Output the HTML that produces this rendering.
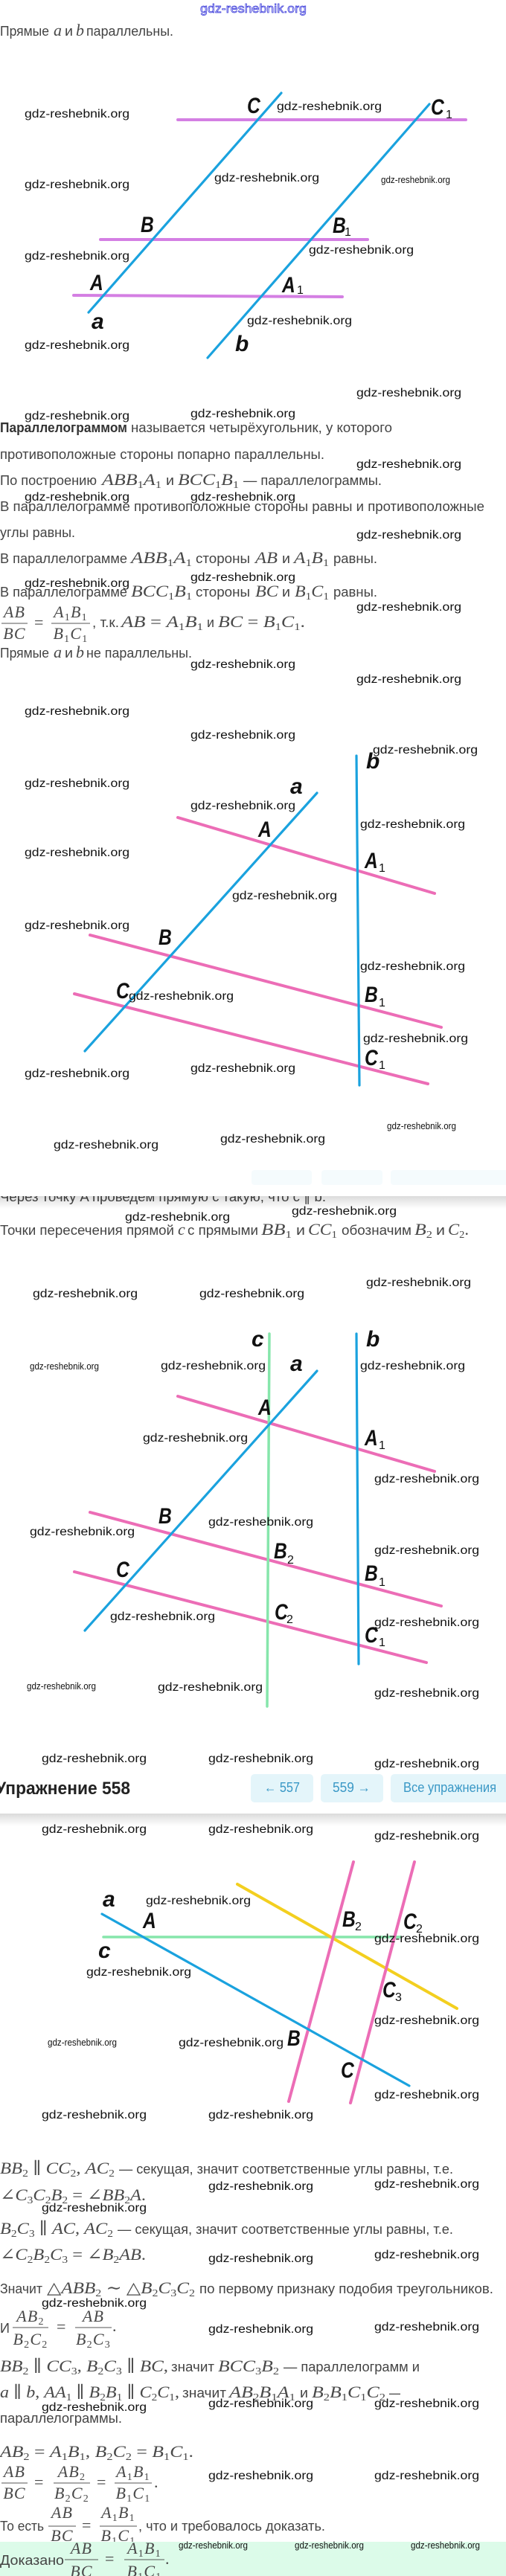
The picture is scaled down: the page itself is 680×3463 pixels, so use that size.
<!DOCTYPE html>
<html><head><meta charset="utf-8">
<style>
html,body{margin:0;padding:0;background:#fff;}
body{width:680px;height:3463px;overflow:hidden;position:relative;}
svg{position:absolute;left:0;top:0;}
.t{font-family:"Liberation Sans",sans-serif;font-size:18px;fill:#444;}
.bd{font-weight:bold;fill:#333;}
.m{font-family:"Liberation Serif","DejaVu Serif",serif;font-style:italic;font-size:22px;fill:#4a4a4a;}
.n{font-style:normal;}
.s{font-style:normal;font-size:14px;}
.fr{letter-spacing:1.2px;}
.w{font-family:"Liberation Sans",sans-serif;font-size:15.5px;fill:#111;}
.ws{font-family:"Liberation Sans",sans-serif;font-size:12.5px;fill:#111;}
.L{font-family:"Liberation Sans",sans-serif;font-style:italic;font-weight:bold;font-size:30px;fill:#111;}
.Ls{font-family:"Liberation Sans",sans-serif;font-size:16px;fill:#111;}
.bl{stroke:#1aa2de;stroke-width:3.2;stroke-linecap:round;}
.vi{stroke:#d47fe3;stroke-width:4;stroke-linecap:round;}
.pk{stroke:#ec6db6;stroke-width:4;stroke-linecap:round;}
.gr{stroke:#86e6ab;stroke-width:3.5;stroke-linecap:round;}
.ye{stroke:#f3cf1f;stroke-width:4;stroke-linecap:round;}
.fl{stroke:#555;stroke-width:1;}
.bt{font-family:"Liberation Sans","DejaVu Sans",sans-serif;font-size:18px;fill:#3a98c6;}
</style></head><body>
<svg width="680" height="3463" viewBox="0 0 680 3463" xmlns="http://www.w3.org/2000/svg">
<defs>
<linearGradient id="sh" x1="0" y1="0" x2="0" y2="1"><stop offset="0" stop-color="#000" stop-opacity="0.14"/><stop offset="1" stop-color="#000" stop-opacity="0"/></linearGradient>
</defs>

<!-- top site watermark -->
<text x="269" y="17" textLength="143" lengthAdjust="spacingAndGlyphs" style="font-family:'Liberation Sans',sans-serif;font-size:17px;fill:#e6e6ff;stroke:#2d2dd6;stroke-width:0.7">gdz-reshebnik.org</text>

<!-- ===== Diagram 1 ===== -->
<line class="vi" x1="239" y1="161" x2="626" y2="161"/>
<line class="vi" x1="135" y1="322" x2="494" y2="322"/>
<line class="vi" x1="99" y1="397" x2="460" y2="399"/>
<line class="bl" x1="378" y1="125" x2="119" y2="420"/>
<line class="bl" x1="577" y1="140" x2="279" y2="481"/>
<text class="L" transform="translate(332 152) scale(0.82 1)">C</text>
<text class="L" transform="translate(579 154) scale(0.82 1)">C</text><text class="Ls" x="599" y="159">1</text>
<text class="L" transform="translate(189 312) scale(0.82 1)">B</text>
<text class="L" transform="translate(447 313) scale(0.82 1)">B</text><text class="Ls" x="463" y="317">1</text>
<text class="L" transform="translate(121 390) scale(0.82 1)">A</text>
<text class="L" transform="translate(379 393) scale(0.82 1)">A</text><text class="Ls" x="399" y="395">1</text>
<text class="L" transform="translate(123 442)">a</text>
<text class="L" transform="translate(316 472)">b</text>

<!-- text block 1 -->
<text class="t" x="0" y="48" textLength="66" lengthAdjust="spacingAndGlyphs">Прямые</text>
<text class="m" x="72" y="48">a</text>
<text class="t" x="87" y="48" textLength="11" lengthAdjust="spacingAndGlyphs">и</text>
<text class="m" x="102" y="48">b</text>
<text class="t" x="116" y="48" textLength="117" lengthAdjust="spacingAndGlyphs">параллельны.</text>

<text class="t bd" x="0" y="581" textLength="171" lengthAdjust="spacingAndGlyphs">Параллелограммом</text>
<text class="t" x="176" y="581" textLength="351" lengthAdjust="spacingAndGlyphs">называется четырёхугольник, у которого</text>
<text class="t" x="0" y="617" textLength="436" lengthAdjust="spacingAndGlyphs">противоположные стороны попарно параллельны.</text>

<text class="t" x="0" y="652" textLength="130" lengthAdjust="spacingAndGlyphs">По построению</text>
<text class="m" x="137" y="652" textLength="80" lengthAdjust="spacingAndGlyphs">ABB<tspan class="s" dy="4">1</tspan><tspan dy="-4">A</tspan><tspan class="s" dy="4">1</tspan></text>
<text class="t" x="223" y="652" textLength="11" lengthAdjust="spacingAndGlyphs">и</text>
<text class="m" x="239" y="652" textLength="82" lengthAdjust="spacingAndGlyphs">BCC<tspan class="s" dy="4">1</tspan><tspan dy="-4">B</tspan><tspan class="s" dy="4">1</tspan></text>
<text class="t" x="327" y="652" textLength="186" lengthAdjust="spacingAndGlyphs">— параллелограммы.</text>

<text class="t" x="0" y="687" textLength="651" lengthAdjust="spacingAndGlyphs">В параллелограмме противоположные стороны равны и противоположные</text>
<text class="t" x="0" y="722" textLength="101" lengthAdjust="spacingAndGlyphs">углы равны.</text>

<text class="t" x="0" y="757" textLength="171" lengthAdjust="spacingAndGlyphs">В параллелограмме</text>
<text class="m" x="176" y="757" textLength="82" lengthAdjust="spacingAndGlyphs">ABB<tspan class="s" dy="4">1</tspan><tspan dy="-4">A</tspan><tspan class="s" dy="4">1</tspan></text>
<text class="t" x="263" y="757" textLength="73" lengthAdjust="spacingAndGlyphs">стороны</text>
<text class="m" x="343" y="757" textLength="30" lengthAdjust="spacingAndGlyphs">AB</text>
<text class="t" x="379" y="757" textLength="11" lengthAdjust="spacingAndGlyphs">и</text>
<text class="m" x="395" y="757" textLength="47" lengthAdjust="spacingAndGlyphs">A<tspan class="s" dy="4">1</tspan><tspan dy="-4">B</tspan><tspan class="s" dy="4">1</tspan></text>
<text class="t" x="448" y="757" textLength="59" lengthAdjust="spacingAndGlyphs">равны.</text>

<text class="t" x="0" y="802" textLength="171" lengthAdjust="spacingAndGlyphs">В параллелограмме</text>
<text class="m" x="176" y="802" textLength="82" lengthAdjust="spacingAndGlyphs">BCC<tspan class="s" dy="4">1</tspan><tspan dy="-4">B</tspan><tspan class="s" dy="4">1</tspan></text>
<text class="t" x="263" y="802" textLength="73" lengthAdjust="spacingAndGlyphs">стороны</text>
<text class="m" x="343" y="802" textLength="31" lengthAdjust="spacingAndGlyphs">BC</text>
<text class="t" x="379" y="802" textLength="11" lengthAdjust="spacingAndGlyphs">и</text>
<text class="m" x="396" y="802" textLength="46" lengthAdjust="spacingAndGlyphs">B<tspan class="s" dy="4">1</tspan><tspan dy="-4">C</tspan><tspan class="s" dy="4">1</tspan></text>
<text class="t" x="448" y="802" textLength="59" lengthAdjust="spacingAndGlyphs">равны.</text>

<!-- fraction line 9 -->
<text class="m fr" x="19.5" y="830" text-anchor="middle">AB</text>
<line class="fl" x1="2" y1="838" x2="37" y2="838"/>
<text class="m fr" x="19.5" y="859" text-anchor="middle">BC</text>
<text class="m n" x="46" y="844">=</text>
<text class="m fr" x="95" y="830" text-anchor="middle">A<tspan class="s" dy="4">1</tspan><tspan dy="-4">B</tspan><tspan class="s" dy="4">1</tspan></text>
<line class="fl" x1="69" y1="838" x2="121" y2="838"/>
<text class="m fr" x="95" y="859" text-anchor="middle">B<tspan class="s" dy="4">1</tspan><tspan dy="-4">C</tspan><tspan class="s" dy="4">1</tspan></text>
<text class="t" x="124" y="843" textLength="36" lengthAdjust="spacingAndGlyphs">, т.к.</text>
<text class="m" x="163" y="843" textLength="110" lengthAdjust="spacingAndGlyphs">AB<tspan class="n"> = </tspan>A<tspan class="s" dy="4">1</tspan><tspan dy="-4">B</tspan><tspan class="s" dy="4">1</tspan></text>
<text class="t" x="278" y="843" textLength="10" lengthAdjust="spacingAndGlyphs">и</text>
<text class="m" x="293" y="843" textLength="117" lengthAdjust="spacingAndGlyphs">BC<tspan class="n"> = </tspan>B<tspan class="s" dy="4">1</tspan><tspan dy="-4">C</tspan><tspan class="s" dy="4">1</tspan><tspan class="n" dy="-4">.</tspan></text>

<text class="t" x="0" y="884" textLength="66" lengthAdjust="spacingAndGlyphs">Прямые</text>
<text class="m" x="72" y="884">a</text>
<text class="t" x="87" y="884" textLength="11" lengthAdjust="spacingAndGlyphs">и</text>
<text class="m" x="102" y="884">b</text>
<text class="t" x="116" y="884" textLength="142" lengthAdjust="spacingAndGlyphs">не параллельны.</text>

<!-- ===== Diagram 2 ===== -->
<line class="pk" x1="239" y1="1099" x2="584" y2="1201"/>
<line class="pk" x1="121" y1="1257" x2="593" y2="1381"/>
<line class="pk" x1="100" y1="1336" x2="575" y2="1457"/>
<line class="bl" x1="479" y1="1016" x2="483" y2="1459"/>
<line class="bl" x1="426" y1="1066" x2="114" y2="1413"/>
<text class="L" transform="translate(492 1033)">b</text>
<text class="L" transform="translate(390 1067)">a</text>
<text class="L" transform="translate(347 1125) scale(0.82 1)">A</text>
<text class="L" transform="translate(490 1167) scale(0.82 1)">A</text><text class="Ls" x="509" y="1172">1</text>
<text class="L" transform="translate(213 1270) scale(0.82 1)">B</text>
<text class="L" transform="translate(490 1347) scale(0.82 1)">B</text><text class="Ls" x="509" y="1353">1</text>
<text class="L" transform="translate(156 1342) scale(0.82 1)">C</text>
<text class="L" transform="translate(490 1432) scale(0.82 1)">C</text><text class="Ls" x="509" y="1437">1</text>

<!-- hidden line under sticky header -->
<text class="t" x="0" y="1615" textLength="438" lengthAdjust="spacingAndGlyphs">Через точку A проведем прямую c такую, что c ∥ b.</text>
<rect x="0" y="1548" width="680" height="60" fill="#fff"/>
<rect x="338" y="1573" width="81" height="20" rx="4" fill="#f5fbfd"/>
<rect x="432" y="1573" width="82" height="20" rx="4" fill="#f5fbfd"/>
<rect x="525" y="1573" width="160" height="20" rx="4" fill="#f5fbfd"/>
<rect x="0" y="1608" width="680" height="17" fill="url(#sh)"/>

<text class="t" x="0" y="1660" textLength="234" lengthAdjust="spacingAndGlyphs">Точки пересечения прямой</text>
<text class="m" x="239" y="1660">c</text>
<text class="t" x="252" y="1660" textLength="95" lengthAdjust="spacingAndGlyphs">с прямыми</text>
<text class="m" x="351" y="1660" textLength="41" lengthAdjust="spacingAndGlyphs">BB<tspan class="s" dy="4">1</tspan></text>
<text class="t" x="398" y="1660" textLength="12" lengthAdjust="spacingAndGlyphs">и</text>
<text class="m" x="414" y="1660" textLength="39" lengthAdjust="spacingAndGlyphs">CC<tspan class="s" dy="4">1</tspan></text>
<text class="t" x="459" y="1660" textLength="94" lengthAdjust="spacingAndGlyphs">обозначим</text>
<text class="m" x="557" y="1660" textLength="24" lengthAdjust="spacingAndGlyphs">B<tspan class="s" dy="4">2</tspan></text>
<text class="t" x="586" y="1660" textLength="12" lengthAdjust="spacingAndGlyphs">и</text>
<text class="m" x="602" y="1660" textLength="28" lengthAdjust="spacingAndGlyphs">C<tspan class="s" dy="4">2</tspan><tspan class="n" dy="-4">.</tspan></text>

<!-- ===== Diagram 3 ===== -->
<line class="pk" x1="239" y1="1877" x2="584" y2="1978"/>
<line class="pk" x1="121" y1="2033" x2="593" y2="2159"/>
<line class="pk" x1="100" y1="2113" x2="573" y2="2235"/>
<line class="gr" x1="362" y1="1793" x2="359" y2="2294"/>
<line class="bl" x1="479" y1="1793" x2="482" y2="2237"/>
<line class="bl" x1="426" y1="1843" x2="114" y2="2192"/>
<text class="L" transform="translate(338 1810)">c</text>
<text class="L" transform="translate(492 1810)">b</text>
<text class="L" transform="translate(390 1843)">a</text>
<text class="L" transform="translate(347 1902) scale(0.82 1)">A</text>
<text class="L" transform="translate(490 1943) scale(0.82 1)">A</text><text class="Ls" x="509" y="1948">1</text>
<text class="L" transform="translate(213 2048) scale(0.82 1)">B</text>
<text class="L" transform="translate(368 2095) scale(0.82 1)">B</text><text class="Ls" x="386" y="2102">2</text>
<text class="L" transform="translate(490 2125) scale(0.82 1)">B</text><text class="Ls" x="509" y="2132">1</text>
<text class="L" transform="translate(156 2120) scale(0.82 1)">C</text>
<text class="L" transform="translate(369 2177) scale(0.82 1)">C</text><text class="Ls" x="385" y="2182">2</text>
<text class="L" transform="translate(490 2208) scale(0.82 1)">C</text><text class="Ls" x="509" y="2213">1</text>

<!-- sticky header 2 -->
<rect x="0" y="2381" width="680" height="57" fill="#fff"/>
<text class="t bd" x="-6" y="2412" textLength="181" lengthAdjust="spacingAndGlyphs" style="font-size:24px;fill:#222">Упражнение 558</text>
<rect x="337" y="2385" width="84" height="38" rx="5" fill="#e4f5fa"/>
<rect x="431" y="2385" width="84" height="38" rx="5" fill="#e4f5fa"/>
<rect x="525" y="2385" width="160" height="38" rx="5" fill="#e4f5fa"/>
<text class="bt" x="355" y="2409" textLength="48" lengthAdjust="spacingAndGlyphs">← 557</text>
<text class="bt" x="447" y="2409" textLength="51" lengthAdjust="spacingAndGlyphs">559 →</text>
<text class="bt" x="542" y="2409" textLength="125" lengthAdjust="spacingAndGlyphs">Все упражнения</text>
<rect x="0" y="2438" width="680" height="17" fill="url(#sh)"/>

<!-- ===== Diagram 4 ===== -->
<line class="gr" x1="139" y1="2604" x2="538" y2="2604"/>
<line class="ye" x1="319" y1="2533" x2="614" y2="2700"/>
<line class="pk" x1="475" y1="2503" x2="388" y2="2825"/>
<line class="pk" x1="557" y1="2503" x2="471" y2="2827"/>
<line class="bl" x1="137" y1="2573" x2="550" y2="2804"/>
<text class="L" transform="translate(138 2563)">a</text>
<text class="L" transform="translate(192 2592) scale(0.82 1)">A</text>
<text class="L" transform="translate(460 2590) scale(0.82 1)">B</text><text class="Ls" x="477" y="2595">2</text>
<text class="L" transform="translate(542 2593) scale(0.82 1)">C</text><text class="Ls" x="559" y="2598">2</text>
<text class="L" transform="translate(132 2632)">c</text>
<text class="L" transform="translate(514 2685) scale(0.82 1)">C</text><text class="Ls" x="531" y="2690">3</text>
<text class="L" transform="translate(386 2750) scale(0.82 1)">B</text>
<text class="L" transform="translate(458 2793) scale(0.82 1)">C</text>

<!-- text block 4 -->
<text class="m" x="0" y="2922" textLength="154" lengthAdjust="spacingAndGlyphs">BB<tspan class="s" dy="4">2</tspan><tspan class="n" dy="-4"> ∥ </tspan>CC<tspan class="s" dy="4">2</tspan><tspan class="n" dy="-4">, </tspan>AC<tspan class="s" dy="4">2</tspan></text>
<text class="t" x="160" y="2922" textLength="449" lengthAdjust="spacingAndGlyphs">— секущая, значит соответственные углы равны, т.е.</text>
<text class="m" x="0" y="2958" textLength="196" lengthAdjust="spacingAndGlyphs"><tspan class="n">∠</tspan>C<tspan class="s" dy="4">3</tspan><tspan dy="-4">C</tspan><tspan class="s" dy="4">2</tspan><tspan dy="-4">B</tspan><tspan class="s" dy="4">2</tspan><tspan class="n" dy="-4"> = ∠</tspan>BB<tspan class="s" dy="4">2</tspan><tspan dy="-4">A</tspan><tspan class="n">.</tspan></text>
<text class="m" x="0" y="3003" textLength="152" lengthAdjust="spacingAndGlyphs">B<tspan class="s" dy="4">2</tspan><tspan dy="-4">C</tspan><tspan class="s" dy="4">3</tspan><tspan class="n" dy="-4"> ∥ </tspan>AC<tspan class="n">, </tspan>AC<tspan class="s" dy="4">2</tspan></text>
<text class="t" x="158" y="3003" textLength="451" lengthAdjust="spacingAndGlyphs">— секущая, значит соответственные углы равны, т.е.</text>
<text class="m" x="0" y="3038" textLength="196" lengthAdjust="spacingAndGlyphs"><tspan class="n">∠</tspan>C<tspan class="s" dy="4">2</tspan><tspan dy="-4">B</tspan><tspan class="s" dy="4">2</tspan><tspan dy="-4">C</tspan><tspan class="s" dy="4">3</tspan><tspan class="n" dy="-4"> = ∠</tspan>B<tspan class="s" dy="4">2</tspan><tspan dy="-4">AB</tspan><tspan class="n">.</tspan></text>
<text class="t" x="0" y="3083" textLength="57" lengthAdjust="spacingAndGlyphs">Значит</text>
<text class="m" x="63" y="3083" textLength="199" lengthAdjust="spacingAndGlyphs"><tspan class="n">△</tspan>ABB<tspan class="s" dy="4">2</tspan><tspan class="n" dy="-4"> ∼ △</tspan>B<tspan class="s" dy="4">2</tspan><tspan dy="-4">C</tspan><tspan class="s" dy="4">3</tspan><tspan dy="-4">C</tspan><tspan class="s" dy="4">2</tspan></text>
<text class="t" x="268" y="3083" textLength="395" lengthAdjust="spacingAndGlyphs">по первому признаку подобия треугольников.</text>

<text class="t" x="0" y="3136">И</text>
<text class="m fr" x="41" y="3121" text-anchor="middle">AB<tspan class="s" dy="4">2</tspan></text>
<line class="fl" x1="17" y1="3129" x2="65" y2="3129"/>
<text class="m fr" x="41" y="3152" text-anchor="middle">B<tspan class="s" dy="4">2</tspan><tspan dy="-4">C</tspan><tspan class="s" dy="4">2</tspan></text>
<text class="m n" x="76" y="3135">=</text>
<text class="m fr" x="125.5" y="3121" text-anchor="middle">AB</text>
<line class="fl" x1="101" y1="3129" x2="150" y2="3129"/>
<text class="m fr" x="125.5" y="3152" text-anchor="middle">B<tspan class="s" dy="4">2</tspan><tspan dy="-4">C</tspan><tspan class="s" dy="4">3</tspan></text>
<text class="m n" x="151" y="3134">.</text>

<text class="m" x="0" y="3188" textLength="226" lengthAdjust="spacingAndGlyphs">BB<tspan class="s" dy="4">2</tspan><tspan class="n" dy="-4"> ∥ </tspan>CC<tspan class="s" dy="4">3</tspan><tspan class="n" dy="-4">, </tspan>B<tspan class="s" dy="4">2</tspan><tspan dy="-4">C</tspan><tspan class="s" dy="4">3</tspan><tspan class="n" dy="-4"> ∥ </tspan>BC<tspan class="n">,</tspan></text>
<text class="t" x="230" y="3188" textLength="58" lengthAdjust="spacingAndGlyphs">значит</text>
<text class="m" x="293" y="3188" textLength="82" lengthAdjust="spacingAndGlyphs">BCC<tspan class="s" dy="4">3</tspan><tspan dy="-4">B</tspan><tspan class="s" dy="4">2</tspan></text>
<text class="t" x="381" y="3188" textLength="183" lengthAdjust="spacingAndGlyphs">— параллелограмм и</text>

<text class="m" x="0" y="3223" textLength="241" lengthAdjust="spacingAndGlyphs">a<tspan class="n"> ∥ </tspan>b<tspan class="n">, </tspan>AA<tspan class="s" dy="4">1</tspan><tspan class="n" dy="-4"> ∥ </tspan>B<tspan class="s" dy="4">2</tspan><tspan dy="-4">B</tspan><tspan class="s" dy="4">1</tspan><tspan class="n" dy="-4"> ∥ </tspan>C<tspan class="s" dy="4">2</tspan><tspan dy="-4">C</tspan><tspan class="s" dy="4">1</tspan><tspan class="n" dy="-4">,</tspan></text>
<text class="t" x="245" y="3223" textLength="59" lengthAdjust="spacingAndGlyphs">значит</text>
<text class="m" x="308" y="3223" textLength="89" lengthAdjust="spacingAndGlyphs">AB<tspan class="s" dy="4">2</tspan><tspan dy="-4">B</tspan><tspan class="s" dy="4">1</tspan><tspan dy="-4">A</tspan><tspan class="s" dy="4">1</tspan></text>
<text class="t" x="403" y="3223" textLength="11" lengthAdjust="spacingAndGlyphs">и</text>
<text class="m" x="419" y="3223" textLength="99" lengthAdjust="spacingAndGlyphs">B<tspan class="s" dy="4">2</tspan><tspan dy="-4">B</tspan><tspan class="s" dy="4">1</tspan><tspan dy="-4">C</tspan><tspan class="s" dy="4">1</tspan><tspan dy="-4">C</tspan><tspan class="s" dy="4">2</tspan></text>
<text class="t" x="523" y="3223" textLength="15" lengthAdjust="spacingAndGlyphs">—</text>
<text class="t" x="0" y="3257" textLength="164" lengthAdjust="spacingAndGlyphs">параллелограммы.</text>

<text class="m" x="0" y="3303" textLength="260" lengthAdjust="spacingAndGlyphs">AB<tspan class="s" dy="4">2</tspan><tspan class="n" dy="-4"> = </tspan>A<tspan class="s" dy="4">1</tspan><tspan dy="-4">B</tspan><tspan class="s" dy="4">1</tspan><tspan class="n" dy="-4">, </tspan>B<tspan class="s" dy="4">2</tspan><tspan dy="-4">C</tspan><tspan class="s" dy="4">2</tspan><tspan class="n" dy="-4"> = </tspan>B<tspan class="s" dy="4">1</tspan><tspan dy="-4">C</tspan><tspan class="s" dy="4">1</tspan><tspan class="n" dy="-4">.</tspan></text>

<!-- fraction chain K -->
<text class="m fr" x="19.5" y="3330" text-anchor="middle">AB</text>
<line class="fl" x1="2" y1="3338" x2="37" y2="3338"/>
<text class="m fr" x="19.5" y="3359" text-anchor="middle">BC</text>
<text class="m n" x="46" y="3344">=</text>
<text class="m fr" x="96.5" y="3330" text-anchor="middle">AB<tspan class="s" dy="4">2</tspan></text>
<line class="fl" x1="72" y1="3338" x2="121" y2="3338"/>
<text class="m fr" x="96.5" y="3359" text-anchor="middle">B<tspan class="s" dy="4">2</tspan><tspan dy="-4">C</tspan><tspan class="s" dy="4">2</tspan></text>
<text class="m n" x="130" y="3344">=</text>
<text class="m fr" x="179" y="3330" text-anchor="middle">A<tspan class="s" dy="4">1</tspan><tspan dy="-4">B</tspan><tspan class="s" dy="4">1</tspan></text>
<line class="fl" x1="154" y1="3338" x2="204" y2="3338"/>
<text class="m fr" x="179" y="3359" text-anchor="middle">B<tspan class="s" dy="4">1</tspan><tspan dy="-4">C</tspan><tspan class="s" dy="4">1</tspan></text>
<text class="m n" x="207" y="3344">.</text>

<!-- То есть -->
<text class="t" x="0" y="3402" textLength="59" lengthAdjust="spacingAndGlyphs">То есть</text>
<text class="m fr" x="83.5" y="3385" text-anchor="middle">AB</text>
<line class="fl" x1="65" y1="3396" x2="102" y2="3396"/>
<text class="m fr" x="83.5" y="3416" text-anchor="middle">BC</text>
<text class="m n" x="110" y="3402">=</text>
<text class="m fr" x="159" y="3385" text-anchor="middle">A<tspan class="s" dy="4">1</tspan><tspan dy="-4">B</tspan><tspan class="s" dy="4">1</tspan></text>
<line class="fl" x1="134" y1="3396" x2="184" y2="3396"/>
<text class="m fr" x="159" y="3416" text-anchor="middle">B<tspan class="s" dy="4">1</tspan><tspan dy="-4">C</tspan><tspan class="s" dy="4">1</tspan></text>
<text class="t" x="186" y="3402" textLength="251" lengthAdjust="spacingAndGlyphs">, что и требовалось доказать.</text>

<!-- green proved box -->
<rect x="0" y="3417" width="680" height="46" fill="#dcfbe9"/>
<text class="t" x="0" y="3448" textLength="86" lengthAdjust="spacingAndGlyphs">Доказано</text>
<text class="m fr" x="109.5" y="3433" text-anchor="middle">AB</text>
<line class="fl" x1="87" y1="3441" x2="132" y2="3441"/>
<text class="m fr" x="109.5" y="3464" text-anchor="middle">BC</text>
<text class="m n" x="141" y="3447">=</text>
<text class="m fr" x="194" y="3433" text-anchor="middle">A<tspan class="s" dy="4">1</tspan><tspan dy="-4">B</tspan><tspan class="s" dy="4">1</tspan></text>
<line class="fl" x1="167" y1="3441" x2="221" y2="3441"/>
<text class="m fr" x="194" y="3464" text-anchor="middle">B<tspan class="s" dy="4">1</tspan><tspan dy="-4">C</tspan><tspan class="s" dy="4">1</tspan></text>
<text class="m n" x="222" y="3447">.</text>

<!-- ===== watermarks (standard) ===== -->
<g class="w">
<text x="33" y="158" textLength="141" lengthAdjust="spacingAndGlyphs">gdz-reshebnik.org</text>
<text x="372" y="148" textLength="141" lengthAdjust="spacingAndGlyphs">gdz-reshebnik.org</text>
<text x="288" y="244" textLength="141" lengthAdjust="spacingAndGlyphs">gdz-reshebnik.org</text>
<text x="33" y="253" textLength="141" lengthAdjust="spacingAndGlyphs">gdz-reshebnik.org</text>
<text x="33" y="349" textLength="141" lengthAdjust="spacingAndGlyphs">gdz-reshebnik.org</text>
<text x="415" y="341" textLength="141" lengthAdjust="spacingAndGlyphs">gdz-reshebnik.org</text>
<text x="332" y="436" textLength="141" lengthAdjust="spacingAndGlyphs">gdz-reshebnik.org</text>
<text x="33" y="469" textLength="141" lengthAdjust="spacingAndGlyphs">gdz-reshebnik.org</text>
<text x="479" y="533" textLength="141" lengthAdjust="spacingAndGlyphs">gdz-reshebnik.org</text>
<text x="256" y="561" textLength="141" lengthAdjust="spacingAndGlyphs">gdz-reshebnik.org</text>
<text x="33" y="564" textLength="141" lengthAdjust="spacingAndGlyphs">gdz-reshebnik.org</text>
<text x="479" y="629" textLength="141" lengthAdjust="spacingAndGlyphs">gdz-reshebnik.org</text>
<text x="33" y="673" textLength="141" lengthAdjust="spacingAndGlyphs">gdz-reshebnik.org</text>
<text x="256" y="673" textLength="141" lengthAdjust="spacingAndGlyphs">gdz-reshebnik.org</text>
<text x="479" y="724" textLength="141" lengthAdjust="spacingAndGlyphs">gdz-reshebnik.org</text>
<text x="256" y="781" textLength="141" lengthAdjust="spacingAndGlyphs">gdz-reshebnik.org</text>
<text x="33" y="789" textLength="141" lengthAdjust="spacingAndGlyphs">gdz-reshebnik.org</text>
<text x="479" y="821" textLength="141" lengthAdjust="spacingAndGlyphs">gdz-reshebnik.org</text>
<text x="256" y="898" textLength="141" lengthAdjust="spacingAndGlyphs">gdz-reshebnik.org</text>
<text x="479" y="918" textLength="141" lengthAdjust="spacingAndGlyphs">gdz-reshebnik.org</text>
<text x="33" y="961" textLength="141" lengthAdjust="spacingAndGlyphs">gdz-reshebnik.org</text>
<text x="256" y="993" textLength="141" lengthAdjust="spacingAndGlyphs">gdz-reshebnik.org</text>
<text x="501" y="1013" textLength="141" lengthAdjust="spacingAndGlyphs">gdz-reshebnik.org</text>
<text x="33" y="1058" textLength="141" lengthAdjust="spacingAndGlyphs">gdz-reshebnik.org</text>
<text x="256" y="1088" textLength="141" lengthAdjust="spacingAndGlyphs">gdz-reshebnik.org</text>
<text x="484" y="1113" textLength="141" lengthAdjust="spacingAndGlyphs">gdz-reshebnik.org</text>
<text x="33" y="1151" textLength="141" lengthAdjust="spacingAndGlyphs">gdz-reshebnik.org</text>
<text x="312" y="1209" textLength="141" lengthAdjust="spacingAndGlyphs">gdz-reshebnik.org</text>
<text x="33" y="1249" textLength="141" lengthAdjust="spacingAndGlyphs">gdz-reshebnik.org</text>
<text x="484" y="1304" textLength="141" lengthAdjust="spacingAndGlyphs">gdz-reshebnik.org</text>
<text x="173" y="1344" textLength="141" lengthAdjust="spacingAndGlyphs">gdz-reshebnik.org</text>
<text x="488" y="1401" textLength="141" lengthAdjust="spacingAndGlyphs">gdz-reshebnik.org</text>
<text x="256" y="1441" textLength="141" lengthAdjust="spacingAndGlyphs">gdz-reshebnik.org</text>
<text x="33" y="1448" textLength="141" lengthAdjust="spacingAndGlyphs">gdz-reshebnik.org</text>
<text x="72" y="1544" textLength="141" lengthAdjust="spacingAndGlyphs">gdz-reshebnik.org</text>
<text x="296" y="1536" textLength="141" lengthAdjust="spacingAndGlyphs">gdz-reshebnik.org</text>
<text x="168" y="1641" textLength="141" lengthAdjust="spacingAndGlyphs">gdz-reshebnik.org</text>
<text x="392" y="1633" textLength="141" lengthAdjust="spacingAndGlyphs">gdz-reshebnik.org</text>
<text x="492" y="1729" textLength="141" lengthAdjust="spacingAndGlyphs">gdz-reshebnik.org</text>
<text x="44" y="1744" textLength="141" lengthAdjust="spacingAndGlyphs">gdz-reshebnik.org</text>
<text x="268" y="1744" textLength="141" lengthAdjust="spacingAndGlyphs">gdz-reshebnik.org</text>
<text x="216" y="1841" textLength="141" lengthAdjust="spacingAndGlyphs">gdz-reshebnik.org</text>
<text x="484" y="1841" textLength="141" lengthAdjust="spacingAndGlyphs">gdz-reshebnik.org</text>
<text x="192" y="1938" textLength="141" lengthAdjust="spacingAndGlyphs">gdz-reshebnik.org</text>
<text x="503" y="1993" textLength="141" lengthAdjust="spacingAndGlyphs">gdz-reshebnik.org</text>
<text x="40" y="2064" textLength="141" lengthAdjust="spacingAndGlyphs">gdz-reshebnik.org</text>
<text x="280" y="2051" textLength="141" lengthAdjust="spacingAndGlyphs">gdz-reshebnik.org</text>
<text x="503" y="2089" textLength="141" lengthAdjust="spacingAndGlyphs">gdz-reshebnik.org</text>
<text x="148" y="2178" textLength="141" lengthAdjust="spacingAndGlyphs">gdz-reshebnik.org</text>
<text x="503" y="2186" textLength="141" lengthAdjust="spacingAndGlyphs">gdz-reshebnik.org</text>
<text x="212" y="2273" textLength="141" lengthAdjust="spacingAndGlyphs">gdz-reshebnik.org</text>
<text x="503" y="2281" textLength="141" lengthAdjust="spacingAndGlyphs">gdz-reshebnik.org</text>
<text x="56" y="2369" textLength="141" lengthAdjust="spacingAndGlyphs">gdz-reshebnik.org</text>
<text x="280" y="2369" textLength="141" lengthAdjust="spacingAndGlyphs">gdz-reshebnik.org</text>
<text x="503" y="2376" textLength="141" lengthAdjust="spacingAndGlyphs">gdz-reshebnik.org</text>
<text x="56" y="2464" textLength="141" lengthAdjust="spacingAndGlyphs">gdz-reshebnik.org</text>
<text x="280" y="2464" textLength="141" lengthAdjust="spacingAndGlyphs">gdz-reshebnik.org</text>
<text x="503" y="2473" textLength="141" lengthAdjust="spacingAndGlyphs">gdz-reshebnik.org</text>
<text x="196" y="2560" textLength="141" lengthAdjust="spacingAndGlyphs">gdz-reshebnik.org</text>
<text x="503" y="2611" textLength="141" lengthAdjust="spacingAndGlyphs">gdz-reshebnik.org</text>
<text x="116" y="2656" textLength="141" lengthAdjust="spacingAndGlyphs">gdz-reshebnik.org</text>
<text x="503" y="2721" textLength="141" lengthAdjust="spacingAndGlyphs">gdz-reshebnik.org</text>
<text x="240" y="2751" textLength="141" lengthAdjust="spacingAndGlyphs">gdz-reshebnik.org</text>
<text x="503" y="2821" textLength="141" lengthAdjust="spacingAndGlyphs">gdz-reshebnik.org</text>
<text x="56" y="2848" textLength="141" lengthAdjust="spacingAndGlyphs">gdz-reshebnik.org</text>
<text x="280" y="2848" textLength="141" lengthAdjust="spacingAndGlyphs">gdz-reshebnik.org</text>
<text x="280" y="2944" textLength="141" lengthAdjust="spacingAndGlyphs">gdz-reshebnik.org</text>
<text x="503" y="2941" textLength="141" lengthAdjust="spacingAndGlyphs">gdz-reshebnik.org</text>
<text x="56" y="2973" textLength="141" lengthAdjust="spacingAndGlyphs">gdz-reshebnik.org</text>
<text x="280" y="3041" textLength="141" lengthAdjust="spacingAndGlyphs">gdz-reshebnik.org</text>
<text x="503" y="3036" textLength="141" lengthAdjust="spacingAndGlyphs">gdz-reshebnik.org</text>
<text x="56" y="3101" textLength="141" lengthAdjust="spacingAndGlyphs">gdz-reshebnik.org</text>
<text x="280" y="3136" textLength="141" lengthAdjust="spacingAndGlyphs">gdz-reshebnik.org</text>
<text x="503" y="3133" textLength="141" lengthAdjust="spacingAndGlyphs">gdz-reshebnik.org</text>
<text x="56" y="3241" textLength="141" lengthAdjust="spacingAndGlyphs">gdz-reshebnik.org</text>
<text x="280" y="3236" textLength="141" lengthAdjust="spacingAndGlyphs">gdz-reshebnik.org</text>
<text x="503" y="3236" textLength="141" lengthAdjust="spacingAndGlyphs">gdz-reshebnik.org</text>
<text x="280" y="3333" textLength="141" lengthAdjust="spacingAndGlyphs">gdz-reshebnik.org</text>
<text x="503" y="3333" textLength="141" lengthAdjust="spacingAndGlyphs">gdz-reshebnik.org</text>
</g>
<!-- small watermarks -->
<g class="ws">
<text x="512" y="246" textLength="93" lengthAdjust="spacingAndGlyphs">gdz-reshebnik.org</text>
<text x="520" y="1518" textLength="93" lengthAdjust="spacingAndGlyphs">gdz-reshebnik.org</text>
<text x="40" y="1841" textLength="93" lengthAdjust="spacingAndGlyphs">gdz-reshebnik.org</text>
<text x="36" y="2271" textLength="93" lengthAdjust="spacingAndGlyphs">gdz-reshebnik.org</text>
<text x="64" y="2750" textLength="93" lengthAdjust="spacingAndGlyphs">gdz-reshebnik.org</text>
<text x="240" y="3426" textLength="93" lengthAdjust="spacingAndGlyphs">gdz-reshebnik.org</text>
<text x="396" y="3426" textLength="93" lengthAdjust="spacingAndGlyphs">gdz-reshebnik.org</text>
<text x="552" y="3426" textLength="93" lengthAdjust="spacingAndGlyphs">gdz-reshebnik.org</text>
</g>
</svg>
</body></html>
